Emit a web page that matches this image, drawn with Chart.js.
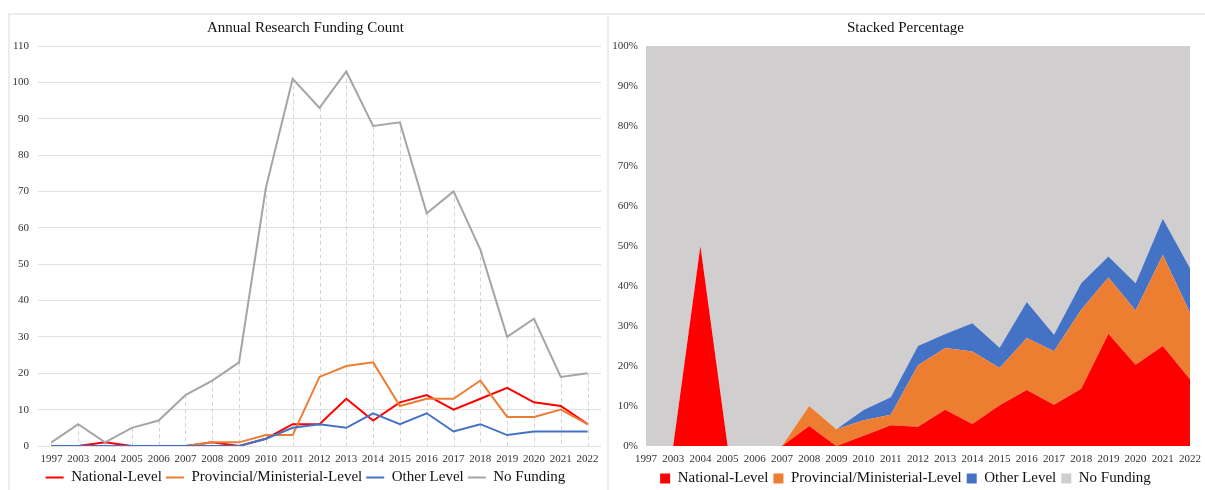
<!DOCTYPE html>
<html>
<head>
<meta charset="utf-8">
<title>Research Funding</title>
<script src="https://cdn.jsdelivr.net/npm/chart.js@4.4.1/dist/chart.umd.min.js"></script>
<style>
    html, body { margin: 0; padding: 0; background: #fff; overflow: hidden; }
    body { width: 1205px; height: 490px; position: relative; }
    .frame { position: absolute; top: 13px; height: 500px; border-top: 2px solid #ececec; border-left: 2px solid #ececec; }
    #frame-left { left: 8px; width: 597px; }
    #frame-right { left: 607px; width: 598px; }
    canvas { position: absolute; }
    #chart-count { left: 10px; top: 15px; }
    #chart-pct { left: 611px; top: 15px; }
</style>
</head>
<body>
<div class="frame" id="frame-left"></div>
<div class="frame" id="frame-right"></div>
<canvas id="chart-count" width="597" height="490"></canvas>
<canvas id="chart-pct" width="597" height="490"></canvas>
<script>
// ---- Data ----
const years = ['1997', '2003', '2004', '2005', '2006', '2007', '2008', '2009', '2010', '2011',
    '2012', '2013', '2014', '2015', '2016', '2017', '2018', '2019', '2020', '2021', '2022'];
const nationalLevel = [0, 0, 1, 0, 0, 0, 1, 0, 2, 6, 6, 13, 7, 12, 14, 10, 13, 16, 12, 11, 6];
const provincialLevel = [0, 0, 0, 0, 0, 0, 1, 1, 3, 3, 19, 22, 23, 11, 13, 13, 18, 8, 8, 10, 6];
const otherLevel = [0, 0, 0, 0, 0, 0, 0, 0, 2, 5, 6, 5, 9, 6, 9, 4, 6, 3, 4, 4, 4];
const noFunding = [1, 6, 1, 5, 7, 14, 18, 23, 71, 101, 93, 103, 88, 89, 64, 70, 54, 30, 35, 19, 20];

const seriesNames = ['National-Level', 'Provincial/Ministerial-Level', 'Other Level', 'No Funding'];
const lineColors = ['#FF0000', '#ED7D31', '#4472C4', '#A5A5A5'];
const areaColors = ['#FF0000', '#ED7D31', '#4472C4', '#D0CECE'];

Chart.defaults.font.family = "'Liberation Serif', 'Times New Roman', serif";
Chart.defaults.color = '#333';
Chart.defaults.animation = false;

// share of each year's total, for the 100% stacked chart
const totals = years.map((y, i) => nationalLevel[i] + provincialLevel[i] + otherLevel[i] + noFunding[i]);
const toPct = arr => arr.map((v, i) => v / totals[i] * 100);

// dashed drop lines from the top series down to the axis
const dropLines = {
    id: 'dropLines',
    beforeDatasetsDraw(chart) {
        const {ctx, chartArea, scales} = chart;
        ctx.save();
        ctx.strokeStyle = '#d4d4d4';
        ctx.lineWidth = 1;
        ctx.setLineDash([4, 3]);
        noFunding.forEach((v, i) => {
            const x = Math.round(scales.x.getPixelForValue(i)) + 0.5;
            ctx.beginPath();
            ctx.moveTo(x, scales.y.getPixelForValue(v));
            ctx.lineTo(x, chartArea.bottom);
            ctx.stroke();
        });
        ctx.restore();
    }
};

// ---- Left: Annual Research Funding Count (Line) ----
const countData = [nationalLevel, provincialLevel, otherLevel, noFunding];
new Chart(document.getElementById('chart-count').getContext('2d'), {
    type: 'line',
    data: {
        labels: years,
        datasets: countData.map((arr, k) => ({
            label: seriesNames[k],
            data: arr,
            borderColor: lineColors[k],
            backgroundColor: lineColors[k],
            borderWidth: 2,
            pointRadius: 0,
            tension: 0,
            order: 4 - k
        }))
    },
    options: {
        responsive: false,
        layout: { padding: { left: 0, right: 6, top: 0, bottom: 10 } },
        plugins: {
            title: {
                display: true,
                text: 'Annual Research Funding Count',
                color: '#111',
                font: { size: 15, weight: 'normal' },
                padding: { top: 4, bottom: 9 }
            },
            legend: {
                position: 'bottom',
                labels: {
                    usePointStyle: true,
                    pointStyle: 'line',
                    pointStyleWidth: 18,
                    padding: 4,
                    color: '#111',
                    font: { size: 15 },
                    sort: (a, b) => a.datasetIndex - b.datasetIndex
                }
            },
            tooltip: { enabled: false }
        },
        scales: {
            x: {
                offset: true,
                grid: { display: false, drawTicks: false },
                border: { display: false },
                ticks: { font: { size: 11 }, padding: 7, maxRotation: 0, autoSkip: false },
                afterFit: s => { s.height = 20; }
            },
            y: {
                min: 0,
                max: 110,
                ticks: { stepSize: 10, font: { size: 11 }, padding: 9 },
                grid: { color: '#e0e0e0', drawTicks: false },
                border: { display: false },
                afterFit: s => { s.width = 28; }
            }
        }
    },
    plugins: [dropLines]
});

// ---- Right: Stacked Percentage (Area) ----
const pctData = countData.map(toPct);
new Chart(document.getElementById('chart-pct').getContext('2d'), {
    type: 'line',
    data: {
        labels: years,
        datasets: pctData.map((arr, k) => ({
            label: seriesNames[k],
            data: arr,
            backgroundColor: areaColors[k],
            borderColor: areaColors[k],
            borderWidth: 0,
            pointRadius: 0,
            tension: 0,
            fill: k === 0 ? 'origin' : '-1'
        }))
    },
    options: {
        responsive: false,
        layout: { padding: { left: 0, right: 8, top: 0, bottom: 9 } },
        plugins: {
            title: {
                display: true,
                text: 'Stacked Percentage',
                color: '#111',
                font: { size: 15, weight: 'normal' },
                padding: { top: 4, bottom: 9 }
            },
            legend: {
                position: 'bottom',
                labels: {
                    boxWidth: 10,
                    boxHeight: 10,
                    padding: 5,
                    color: '#111',
                    font: { size: 15 }
                }
            },
            tooltip: { enabled: false }
        },
        scales: {
            x: {
                offset: false,
                grid: { display: false, drawTicks: false },
                border: { display: false },
                ticks: { font: { size: 11 }, padding: 7, maxRotation: 0, autoSkip: false },
                afterFit: s => { s.height = 20; }
            },
            y: {
                stacked: true,
                min: 0,
                max: 100,
                ticks: { stepSize: 10, font: { size: 11 }, padding: 8, callback: v => v + '%' },
                grid: { display: false, drawTicks: false },
                border: { display: false },
                afterFit: s => { s.width = 35; }
            }
        }
    }
});
</script>
</body>
</html>
